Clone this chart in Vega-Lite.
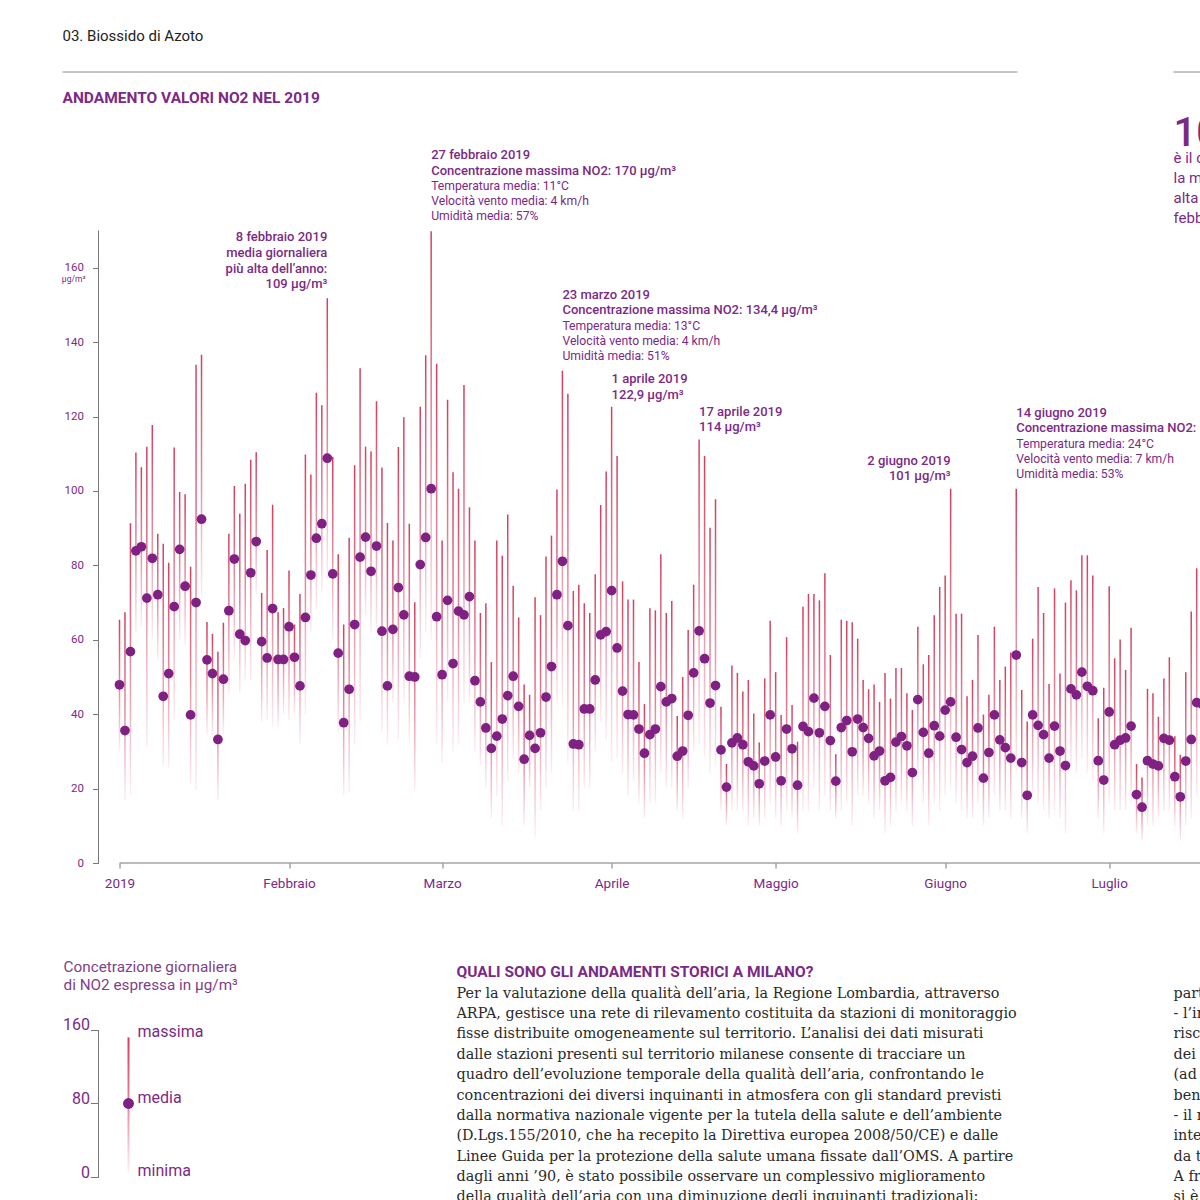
{
"$schema": "https://vega.github.io/schema/vega-lite/v6.json",
"background": "white",
"padding": {"left": 61.5, "top": 29, "right": 0, "bottom": 0},
"autosize": {"type": "pad"},
"config": {"view": {"stroke": null}, "font": "Roboto", "axis": {"labelFont": "Roboto"}, "title": {"font": "Roboto"}},
"datasets": {
"daily": [
{"date":"2019-01-01","mean":47.9,"max":65.4,"min":30},
{"date":"2019-01-02","mean":35.6,"max":67.4,"min":16.7},
{"date":"2019-01-03","mean":56.8,"max":91.3,"min":18.4},
{"date":"2019-01-04","mean":83.9,"max":110.3,"min":61.8},
{"date":"2019-01-05","mean":85.0,"max":106.4,"min":63.5},
{"date":"2019-01-06","mean":71.2,"max":111.9,"min":31.2},
{"date":"2019-01-07","mean":81.9,"max":117.7,"min":60.1},
{"date":"2019-01-08","mean":72.1,"max":88.5,"min":54.6},
{"date":"2019-01-09","mean":44.8,"max":85.8,"min":26.2},
{"date":"2019-01-10","mean":50.9,"max":80.7,"min":25.7},
{"date":"2019-01-11","mean":68.9,"max":111.7,"min":38.4},
{"date":"2019-01-12","mean":84.3,"max":99.7,"min":60.1},
{"date":"2019-01-13","mean":74.4,"max":99.1,"min":58.5},
{"date":"2019-01-14","mean":39.8,"max":79.6,"min":21.2},
{"date":"2019-01-15","mean":70.0,"max":133.9,"min":19.5},
{"date":"2019-01-16","mean":92.4,"max":136.6,"min":71.3},
{"date":"2019-01-17","mean":54.6,"max":64.8,"min":34.5},
{"date":"2019-01-18","mean":50.9,"max":61.6,"min":34.5},
{"date":"2019-01-19","mean":33.2,"max":56.8,"min":16.7},
{"date":"2019-01-20","mean":49.4,"max":64.6,"min":34.5},
{"date":"2019-01-21","mean":67.8,"max":88.5,"min":45.1},
{"date":"2019-01-22","mean":81.7,"max":101.3,"min":54.6},
{"date":"2019-01-23","mean":61.5,"max":93.9,"min":45.7},
{"date":"2019-01-24","mean":59.8,"max":101.9,"min":49.0},
{"date":"2019-01-25","mean":78.0,"max":108.4,"min":49.0},
{"date":"2019-01-26","mean":86.4,"max":110.4,"min":72.4},
{"date":"2019-01-27","mean":59.5,"max":72.6,"min":37.9},
{"date":"2019-01-28","mean":55.1,"max":84.1,"min":38.4},
{"date":"2019-01-29","mean":68.4,"max":96.3,"min":36.7},
{"date":"2019-01-30","mean":54.7,"max":67.4,"min":36.7},
{"date":"2019-01-31","mean":54.7,"max":68.5,"min":40},
{"date":"2019-02-01","mean":63.5,"max":78.6,"min":38.3},
{"date":"2019-02-02","mean":55.3,"max":64.1,"min":40},
{"date":"2019-02-03","mean":47.6,"max":72.3,"min":32},
{"date":"2019-02-04","mean":66.0,"max":109.8,"min":40},
{"date":"2019-02-05","mean":77.4,"max":104.4,"min":62},
{"date":"2019-02-06","mean":87.3,"max":126.4,"min":68},
{"date":"2019-02-07","mean":91.2,"max":123.0,"min":73},
{"date":"2019-02-08","mean":108.8,"max":151.8,"min":76},
{"date":"2019-02-09","mean":77.7,"max":109.2,"min":60},
{"date":"2019-02-10","mean":56.4,"max":83.0,"min":35},
{"date":"2019-02-11","mean":37.7,"max":64.1,"min":18.2},
{"date":"2019-02-12","mean":46.7,"max":87.4,"min":19},
{"date":"2019-02-13","mean":64.1,"max":106.9,"min":32},
{"date":"2019-02-14","mean":82.2,"max":133.0,"min":38},
{"date":"2019-02-15","mean":87.6,"max":111.9,"min":66},
{"date":"2019-02-16","mean":78.4,"max":110.6,"min":62},
{"date":"2019-02-17","mean":85.2,"max":124.1,"min":62},
{"date":"2019-02-18","mean":62.3,"max":106.3,"min":35},
{"date":"2019-02-19","mean":47.6,"max":91.4,"min":32},
{"date":"2019-02-20","mean":62.8,"max":86.7,"min":43},
{"date":"2019-02-21","mean":74.0,"max":111.8,"min":33},
{"date":"2019-02-22","mean":66.7,"max":119.8,"min":43},
{"date":"2019-02-23","mean":50.2,"max":91.2,"min":33},
{"date":"2019-02-24","mean":50.0,"max":70.1,"min":19.4},
{"date":"2019-02-25","mean":80.2,"max":122.6,"min":55},
{"date":"2019-02-26","mean":87.5,"max":136.5,"min":62},
{"date":"2019-02-27","mean":100.6,"max":169.8,"min":60},
{"date":"2019-02-28","mean":66.2,"max":134.2,"min":32},
{"date":"2019-03-01","mean":50.6,"max":86.7,"min":27},
{"date":"2019-03-02","mean":70.6,"max":124.5,"min":43},
{"date":"2019-03-03","mean":53.6,"max":105.0,"min":30},
{"date":"2019-03-04","mean":67.7,"max":100.6,"min":32},
{"date":"2019-03-05","mean":66.7,"max":128.5,"min":43},
{"date":"2019-03-06","mean":71.6,"max":95.6,"min":43},
{"date":"2019-03-07","mean":49.0,"max":86.7,"min":30},
{"date":"2019-03-08","mean":43.3,"max":67.2,"min":26},
{"date":"2019-03-09","mean":36.3,"max":69.8,"min":20},
{"date":"2019-03-10","mean":30.8,"max":54.0,"min":12},
{"date":"2019-03-11","mean":34.1,"max":86.7,"min":18},
{"date":"2019-03-12","mean":38.7,"max":82.6,"min":10},
{"date":"2019-03-13","mean":45.0,"max":93.7,"min":22},
{"date":"2019-03-14","mean":50.2,"max":74.5,"min":28},
{"date":"2019-03-15","mean":42.1,"max":66.0,"min":24},
{"date":"2019-03-16","mean":27.9,"max":48.0,"min":10},
{"date":"2019-03-17","mean":34.3,"max":45.2,"min":20},
{"date":"2019-03-18","mean":30.8,"max":71.4,"min":7},
{"date":"2019-03-19","mean":35.0,"max":66.6,"min":14},
{"date":"2019-03-20","mean":44.6,"max":82.4,"min":20},
{"date":"2019-03-21","mean":52.8,"max":88.0,"min":24},
{"date":"2019-03-22","mean":72.1,"max":100.4,"min":43},
{"date":"2019-03-23","mean":81.1,"max":132.3,"min":42},
{"date":"2019-03-24","mean":63.8,"max":126.1,"min":27},
{"date":"2019-03-25","mean":32.0,"max":73.1,"min":14},
{"date":"2019-03-26","mean":31.8,"max":74.8,"min":14},
{"date":"2019-03-27","mean":41.4,"max":69.8,"min":20},
{"date":"2019-03-28","mean":41.4,"max":67.2,"min":20},
{"date":"2019-03-29","mean":49.2,"max":77.6,"min":30},
{"date":"2019-03-30","mean":61.3,"max":96.2,"min":38},
{"date":"2019-03-31","mean":62.2,"max":105.2,"min":33},
{"date":"2019-04-01","mean":73.2,"max":122.6,"min":27},
{"date":"2019-04-02","mean":57.8,"max":109.4,"min":28},
{"date":"2019-04-03","mean":46.2,"max":75.7,"min":24},
{"date":"2019-04-04","mean":39.9,"max":70.8,"min":18},
{"date":"2019-04-05","mean":39.8,"max":70.8,"min":22},
{"date":"2019-04-06","mean":36.0,"max":54.0,"min":16},
{"date":"2019-04-07","mean":29.5,"max":42.7,"min":12},
{"date":"2019-04-08","mean":34.5,"max":68.5,"min":16},
{"date":"2019-04-09","mean":36.0,"max":67.9,"min":16},
{"date":"2019-04-10","mean":47.4,"max":83.0,"min":24},
{"date":"2019-04-11","mean":43.3,"max":67.2,"min":20},
{"date":"2019-04-12","mean":44.2,"max":70.4,"min":20},
{"date":"2019-04-13","mean":28.7,"max":39.5,"min":14},
{"date":"2019-04-14","mean":30.1,"max":50.0,"min":12},
{"date":"2019-04-15","mean":39.7,"max":62.6,"min":20},
{"date":"2019-04-16","mean":51.1,"max":74.8,"min":30},
{"date":"2019-04-17","mean":62.4,"max":113.8,"min":32},
{"date":"2019-04-18","mean":54.9,"max":109.4,"min":28},
{"date":"2019-04-19","mean":43.0,"max":90.1,"min":24},
{"date":"2019-04-20","mean":47.7,"max":97.8,"min":26},
{"date":"2019-04-21","mean":30.4,"max":42,"min":14},
{"date":"2019-04-22","mean":20.4,"max":26.6,"min":10},
{"date":"2019-04-23","mean":32.3,"max":53.1,"min":14},
{"date":"2019-04-24","mean":33.6,"max":51.1,"min":14},
{"date":"2019-04-25","mean":31.8,"max":46.1,"min":14},
{"date":"2019-04-26","mean":27.2,"max":49.2,"min":10},
{"date":"2019-04-27","mean":26.1,"max":40.2,"min":12},
{"date":"2019-04-28","mean":21.3,"max":32.4,"min":10},
{"date":"2019-04-29","mean":27.4,"max":49.6,"min":12},
{"date":"2019-04-30","mean":39.8,"max":65.1,"min":16},
{"date":"2019-05-01","mean":28.5,"max":51.3,"min":12},
{"date":"2019-05-02","mean":22.1,"max":39.8,"min":10},
{"date":"2019-05-03","mean":36.0,"max":60.7,"min":14},
{"date":"2019-05-04","mean":30.7,"max":42.5,"min":12},
{"date":"2019-05-05","mean":20.9,"max":32.6,"min":8},
{"date":"2019-05-06","mean":36.7,"max":68.9,"min":14},
{"date":"2019-05-07","mean":35.3,"max":72.3,"min":14},
{"date":"2019-05-08","mean":44.3,"max":72.3,"min":20},
{"date":"2019-05-09","mean":35.0,"max":70.6,"min":14},
{"date":"2019-05-10","mean":42.1,"max":77.9,"min":18},
{"date":"2019-05-11","mean":32.9,"max":55.9,"min":14},
{"date":"2019-05-12","mean":22.0,"max":29.2,"min":12},
{"date":"2019-05-13","mean":36.4,"max":65.4,"min":14},
{"date":"2019-05-14","mean":38.3,"max":65.1,"min":16},
{"date":"2019-05-15","mean":29.9,"max":64.7,"min":10},
{"date":"2019-05-16","mean":38.7,"max":60.3,"min":18},
{"date":"2019-05-17","mean":36.4,"max":49.2,"min":18},
{"date":"2019-05-18","mean":33.5,"max":46.7,"min":16},
{"date":"2019-05-19","mean":28.8,"max":48.0,"min":12},
{"date":"2019-05-20","mean":30.1,"max":43.3,"min":14},
{"date":"2019-05-21","mean":22.1,"max":51.1,"min":8},
{"date":"2019-05-22","mean":23.0,"max":44.2,"min":10},
{"date":"2019-05-23","mean":32.5,"max":52.4,"min":14},
{"date":"2019-05-24","mean":34.0,"max":52.4,"min":16},
{"date":"2019-05-25","mean":31.5,"max":45.6,"min":14},
{"date":"2019-05-26","mean":24.3,"max":41.1,"min":10},
{"date":"2019-05-27","mean":43.9,"max":63.5,"min":22},
{"date":"2019-05-28","mean":35.1,"max":53.4,"min":16},
{"date":"2019-05-29","mean":29.5,"max":55.9,"min":10},
{"date":"2019-05-30","mean":36.9,"max":66.6,"min":16},
{"date":"2019-05-31","mean":34.1,"max":74.2,"min":14},
{"date":"2019-06-01","mean":41.1,"max":77.3,"min":18},
{"date":"2019-06-02","mean":43.3,"max":100.6,"min":20},
{"date":"2019-06-03","mean":33.8,"max":67.0,"min":16},
{"date":"2019-06-04","mean":30.5,"max":67.0,"min":14},
{"date":"2019-06-05","mean":27.0,"max":44.8,"min":12},
{"date":"2019-06-06","mean":28.7,"max":49.2,"min":12},
{"date":"2019-06-07","mean":36.3,"max":61.3,"min":16},
{"date":"2019-06-08","mean":22.8,"max":39.9,"min":10},
{"date":"2019-06-09","mean":29.7,"max":45.2,"min":12},
{"date":"2019-06-10","mean":39.8,"max":63.5,"min":18},
{"date":"2019-06-11","mean":33.1,"max":49.2,"min":14},
{"date":"2019-06-12","mean":31.0,"max":52.8,"min":14},
{"date":"2019-06-13","mean":28.2,"max":56.6,"min":12},
{"date":"2019-06-14","mean":55.9,"max":100.6,"min":24},
{"date":"2019-06-15","mean":27.0,"max":46.5,"min":12},
{"date":"2019-06-16","mean":18.2,"max":38,"min":8},
{"date":"2019-06-17","mean":39.8,"max":60.3,"min":18},
{"date":"2019-06-18","mean":37.0,"max":74.2,"min":16},
{"date":"2019-06-19","mean":34.5,"max":67.2,"min":14},
{"date":"2019-06-20","mean":28.2,"max":48.1,"min":12},
{"date":"2019-06-21","mean":36.8,"max":73.8,"min":14},
{"date":"2019-06-22","mean":30.1,"max":50.9,"min":12},
{"date":"2019-06-23","mean":26.2,"max":70.0,"min":8},
{"date":"2019-06-24","mean":46.8,"max":76.0,"min":26},
{"date":"2019-06-25","mean":45.2,"max":73.3,"min":24},
{"date":"2019-06-26","mean":51.3,"max":82.7,"min":28},
{"date":"2019-06-27","mean":47.5,"max":82.7,"min":24},
{"date":"2019-06-28","mean":46.3,"max":77.3,"min":22},
{"date":"2019-06-29","mean":27.5,"max":38.9,"min":12},
{"date":"2019-06-30","mean":22.3,"max":47.1,"min":8},
{"date":"2019-07-01","mean":40.6,"max":74.4,"min":16},
{"date":"2019-07-02","mean":31.8,"max":55.0,"min":14},
{"date":"2019-07-03","mean":33.0,"max":60.1,"min":14},
{"date":"2019-07-04","mean":33.6,"max":51.9,"min":14},
{"date":"2019-07-05","mean":36.8,"max":63.2,"min":16},
{"date":"2019-07-06","mean":18.4,"max":26.6,"min":8},
{"date":"2019-07-07","mean":15.0,"max":23.0,"min":6},
{"date":"2019-07-08","mean":27.5,"max":46.8,"min":10},
{"date":"2019-07-09","mean":26.6,"max":45.6,"min":10},
{"date":"2019-07-10","mean":26.1,"max":39.3,"min":12},
{"date":"2019-07-11","mean":33.5,"max":49.6,"min":14},
{"date":"2019-07-12","mean":33.0,"max":55.3,"min":14},
{"date":"2019-07-13","mean":23.2,"max":34.1,"min":10},
{"date":"2019-07-14","mean":17.8,"max":29.1,"min":6},
{"date":"2019-07-15","mean":27.4,"max":51.3,"min":10},
{"date":"2019-07-16","mean":33.2,"max":67.6,"min":12},
{"date":"2019-07-17","mean":43.1,"max":79.2,"min":18},
{"date":"2019-07-18","mean":42.7,"max":80,"min":18}
],
"notes": [
{"date":"2019-02-08","value":151.8,"head":["8 febbraio 2019","media giornaliera","più alta dell’anno:","109 µg/m³"]},
{"date":"2019-02-27","value":169.8,"head":["27 febbraio 2019","Concentrazione massima NO2: 170 µg/m³"],"detail":["Temperatura media: 11°C","Velocità vento media: 4 km/h","Umidità media: 57%"]},
{"date":"2019-03-23","value":132.3,"head":["23 marzo 2019","Concentrazione massima NO2: 134,4 µg/m³"],"detail":["Temperatura media: 13°C","Velocità vento media: 4 km/h","Umidità media: 51%"]},
{"date":"2019-04-01","value":122.6,"head":["1 aprile 2019","122,9 µg/m³"]},
{"date":"2019-04-17","value":113.8,"head":["17 aprile 2019","114 µg/m³"]},
{"date":"2019-06-02","value":100.6,"head":["2 giugno 2019","101 µg/m³"]},
{"date":"2019-06-14","value":100.6,"head":["14 giugno 2019","Concentrazione massima NO2: 100,6 µg/m³"],"detail":["Temperatura media: 24°C","Velocità vento media: 7 km/h","Umidità media: 53%"]}
],
"legendBar": [{"min": 6, "mean": 80, "max": 152}],
"legendLabels": [{"label": "massima", "value": 152}, {"label": "media", "value": 80}, {"label": "minima", "value": 1}]
},
"concat": [
{
"width": 1102,
"height": 759,
"layer": [
{
"data": {"name": "daily"},
"mark": {"type": "bar", "clip": true, "size": 1.5, "color": {"gradient": "linear", "x1": 0, "y1": 0, "x2": 0, "y2": 1, "stops": [{"offset": 0, "color": "#d2405e"}, {"offset": 0.5, "color": "#e3889c"}, {"offset": 1, "color": "#fdf0f3"}]}},
"encoding": {
"x": {"field": "date", "type": "temporal", "scale": {"type": "utc", "padding": 0, "domain": [{"year": 2018, "month": 12, "date": 28, "hours": 3, "minutes": 50, "utc": true}, {"year": 2019, "month": 7, "date": 17, "hours": 16, "minutes": 42, "utc": true}]},
"axis": {"title": null, "grid": false, "domain": false, "values": [{"year": 2019, "month": 1, "date": 1, "utc": true}, {"year": 2019, "month": 2, "date": 1, "utc": true}, {"year": 2019, "month": 3, "date": 1, "utc": true}, {"year": 2019, "month": 4, "date": 1, "utc": true}, {"year": 2019, "month": 5, "date": 1, "utc": true}, {"year": 2019, "month": 6, "date": 1, "utc": true}, {"year": 2019, "month": 7, "date": 1, "utc": true}],
"labelExpr": "['2019','Febbraio','Marzo','Aprile','Maggio','Giugno','Luglio'][utcmonth(datum.value)]", "tickColor": "#777777", "tickSize": 5, "labelPadding": 8, "labelFontSize": 13.5, "labelColor": "#7b2a86", "labelFlush": false, "labelOverlap": false}},
"y": {"field": "min", "type": "quantitative", "scale": {"domain": [0, 204], "nice": false, "zero": true},
"axis": {"title": null, "grid": false, "domain": false, "values": [0, 20, 40, 60, 80, 100, 120, 140, 160], "tickSize": 6, "tickColor": "#777777", "labelPadding": 9, "labelFontSize": 11.5, "labelColor": "#7b2a86"}},
"y2": {"field": "max"}
}
},
{
"data": {"name": "daily"},
"mark": {"type": "circle", "clip": true, "size": 95, "color": "#7e2182", "opacity": 1},
"encoding": {
"x": {"field": "date", "type": "temporal"},
"y": {"field": "mean", "type": "quantitative"}
}
},
{
"data": {"values": [{}]},
"mark": {"type": "rule", "color": "#777777", "strokeWidth": 1},
"encoding": {
"x": {"datum": {"year": 2018, "month": 12, "date": 28, "hours": 3, "minutes": 50, "utc": true}, "type": "temporal"},
"y": {"datum": 0, "type": "quantitative"},
"y2": {"datum": 170}
}
},
{
"data": {"values": [{}]},
"mark": {"type": "rule", "color": "#777777", "strokeWidth": 1},
"encoding": {
"x": {"datum": {"year": 2019, "month": 1, "date": 1, "utc": true}, "type": "temporal"},
"x2": {"datum": {"year": 2019, "month": 7, "date": 17, "hours": 16, "minutes": 42, "utc": true}},
"y": {"datum": 0, "type": "quantitative"}
}
},
{
"data": {"values": [{}]},
"mark": {"type": "text", "align": "right", "baseline": "alphabetic", "dx": -13, "dy": 14, "fontSize": 8.5, "color": "#7b2a86"},
"encoding": {
"x": {"datum": {"year": 2018, "month": 12, "date": 28, "hours": 3, "minutes": 50, "utc": true}, "type": "temporal"},
"y": {"datum": 160, "type": "quantitative"},
"text": {"value": "µg/m³"}
}
},
{
"data": {"values": [{}]},
"mark": {"type": "rule", "color": "#888888", "strokeWidth": 1},
"encoding": {
"x": {"datum": {"year": 2018, "month": 12, "date": 21, "hours": 13, "minutes": 49, "utc": true}, "type": "temporal"},
"x2": {"datum": {"year": 2019, "month": 6, "date": 14, "hours": 5, "minutes": 31, "utc": true}},
"y": {"datum": 212.6, "type": "quantitative"}
}
},
{
"data": {"values": [{}]},
"mark": {"type": "rule", "color": "#888888", "strokeWidth": 1},
"encoding": {
"x": {"datum": {"year": 2019, "month": 7, "date": 12, "hours": 18, "minutes": 14, "utc": true}, "type": "temporal"},
"x2": {"datum": {"year": 2019, "month": 7, "date": 17, "hours": 16, "minutes": 42, "utc": true}},
"y": {"datum": 212.6, "type": "quantitative"}
}
},
{
"data": {"values": [{}]},
"mark": {"type": "text", "align": "left", "baseline": "alphabetic", "fontSize": 15, "color": "#222222"},
"encoding": {
"x": {"datum": {"year": 2018, "month": 12, "date": 21, "hours": 13, "minutes": 49, "utc": true}, "type": "temporal"},
"y": {"datum": 220.9, "type": "quantitative"},
"text": {"value": "03. Biossido di Azoto"}
}
},
{
"data": {"values": [{}]},
"mark": {"type": "text", "align": "left", "baseline": "alphabetic", "fontSize": 15.5, "fontWeight": "bold", "color": "#7b2a86"},
"encoding": {
"x": {"datum": {"year": 2018, "month": 12, "date": 21, "hours": 13, "minutes": 49, "utc": true}, "type": "temporal"},
"y": {"datum": 204.3, "type": "quantitative"},
"text": {"value": "ANDAMENTO VALORI NO2 NEL 2019"}
}
},
{
"data": {"values": [{}]},
"mark": {"type": "text", "align": "left", "baseline": "alphabetic", "fontSize": 40, "fontWeight": 500, "color": "#7b2a86", "clip": true},
"encoding": {
"x": {"datum": {"year": 2019, "month": 7, "date": 12, "hours": 18, "minutes": 14, "utc": true}, "type": "temporal"},
"y": {"datum": 192.7, "type": "quantitative"},
"text": {"value": "109 µg/m³"}
}
},
{
"data": {"values": [{}]},
"mark": {"type": "text", "align": "left", "baseline": "alphabetic", "fontSize": 15, "lineHeight": 20, "color": "#7b2a86", "clip": true},
"encoding": {
"x": {"datum": {"year": 2019, "month": 7, "date": 12, "hours": 18, "minutes": 14, "utc": true}, "type": "temporal"},
"y": {"datum": 188.1, "type": "quantitative"},
"text": {"value": ["è il culmine registrato per", "la media giornaliera più", "alta dell’anno, l’8", "febbraio 2019"]}
}
},
{
"data": {"name": "notes"},
"transform": [{"filter": "!isValid(datum.detail) && length(datum.head) == 2 && datum.head[0] != '2 giugno 2019'"}],
"mark": {"type": "text", "align": "left", "baseline": "alphabetic", "dy": -24, "fontSize": 13, "fontWeight": 500, "lineHeight": 15.7, "color": "#7b2a86", "clip": true},
"encoding": {
"x": {"field": "date", "type": "temporal"},
"y": {"field": "value", "type": "quantitative"},
"text": {"field": "head"}
}
},
{
"data": {"name": "notes"},
"transform": [{"filter": "datum.head[0] == '2 giugno 2019'"}],
"mark": {"type": "text", "align": "right", "baseline": "alphabetic", "dy": -24, "fontSize": 13, "fontWeight": 500, "lineHeight": 15.7, "color": "#7b2a86", "clip": true},
"encoding": {
"x": {"field": "date", "type": "temporal"},
"y": {"field": "value", "type": "quantitative"},
"text": {"field": "head"}
}
},
{
"data": {"name": "notes"},
"transform": [{"filter": "length(datum.head) == 4"}],
"mark": {"type": "text", "align": "right", "baseline": "alphabetic", "dy": -57, "fontSize": 13, "fontWeight": 500, "lineHeight": 15.7, "color": "#7b2a86", "clip": true},
"encoding": {
"x": {"field": "date", "type": "temporal"},
"y": {"field": "value", "type": "quantitative"},
"text": {"field": "head"}
}
},
{
"data": {"name": "notes"},
"transform": [{"filter": "isValid(datum.detail)"}],
"mark": {"type": "text", "align": "left", "baseline": "alphabetic", "dy": -72, "fontSize": 13, "fontWeight": 500, "lineHeight": 15.7, "color": "#7b2a86", "clip": true},
"encoding": {
"x": {"field": "date", "type": "temporal"},
"y": {"field": "value", "type": "quantitative"},
"text": {"field": "head"}
}
},
{
"data": {"name": "notes"},
"transform": [{"filter": "isValid(datum.detail)"}],
"mark": {"type": "text", "align": "left", "baseline": "alphabetic", "dy": -41, "fontSize": 12.2, "lineHeight": 15, "color": "#7b2a86", "clip": true},
"encoding": {
"x": {"field": "date", "type": "temporal"},
"y": {"field": "value", "type": "quantitative"},
"text": {"field": "detail"}
}
}
]
},
{
"concat": [
{
"width": 241,
"height": 221,
"layer": [
{
"data": {"values": [{}]},
"mark": {"type": "rule", "color": "#777777", "strokeWidth": 1},
"encoding": {
"x": {"datum": 0, "type": "quantitative", "scale": {"domain": [0, 24.1], "nice": false, "zero": false, "padding": 0}, "axis": null},
"y": {"datum": 0, "type": "quantitative", "scale": {"domain": [0, 240.54], "nice": false},
"axis": {"title": null, "grid": false, "domain": false, "values": [0, 80, 160], "tickSize": 8, "tickColor": "#777777", "labelBaseline": "alphabetic", "labelPadding": 1, "labelFontSize": 16, "labelColor": "#7b2a86"}},
"y2": {"datum": 160}
}
},
{
"data": {"name": "legendBar"},
"mark": {"type": "bar", "size": 2, "color": {"gradient": "linear", "x1": 0, "y1": 0, "x2": 0, "y2": 1, "stops": [{"offset": 0, "color": "#d2405e"}, {"offset": 0.5, "color": "#e3889c"}, {"offset": 1, "color": "#fdf0f3"}]}},
"encoding": {
"x": {"datum": 3, "type": "quantitative"},
"y": {"field": "min", "type": "quantitative"},
"y2": {"field": "max"}
}
},
{
"data": {"name": "legendBar"},
"mark": {"type": "circle", "size": 120, "color": "#7e2182", "opacity": 1},
"encoding": {
"x": {"datum": 3, "type": "quantitative"},
"y": {"field": "mean", "type": "quantitative"}
}
},
{
"data": {"name": "legendLabels"},
"mark": {"type": "text", "align": "left", "baseline": "alphabetic", "dx": 9, "fontSize": 16, "color": "#7b2a86"},
"encoding": {
"x": {"datum": 3, "type": "quantitative"},
"y": {"field": "value", "type": "quantitative"},
"text": {"field": "label"}
}
},
{
"data": {"values": [{}]},
"mark": {"type": "text", "align": "left", "baseline": "top", "dx": -35, "dy": 3.5, "fontSize": 15.3, "lineHeight": 18, "color": "#7e3f8c"},
"encoding": {
"x": {"datum": 0, "type": "quantitative"},
"y": {"datum": 240.54, "type": "quantitative"},
"text": {"value": ["Concetrazione giornaliera", "di NO2 espressa in µg/m³"]}
}
}
]
},
{
"width": 600,
"height": 245,
"layer": [
{
"data": {"values": [{}]},
"mark": {"type": "text", "align": "left", "baseline": "top", "dy": 9, "fontSize": 15.5, "fontWeight": "bold", "color": "#7b2a86", "clip": true},
"encoding": {
"x": {"datum": 0, "type": "quantitative", "scale": {"domain": [0, 1], "nice": false, "zero": false}, "axis": null},
"y": {"datum": 1, "type": "quantitative", "scale": {"domain": [0, 1], "nice": false}, "axis": null},
"text": {"value": "QUALI SONO GLI ANDAMENTI STORICI A MILANO?"}
}
},
{
"data": {"values": [{}]},
"mark": {"type": "text", "align": "left", "baseline": "top", "dy": 30.5, "font": "DejaVu Serif", "fontSize": 14.35, "lineHeight": 20.4, "color": "#2a2a2a", "clip": true},
"encoding": {
"x": {"datum": 0, "type": "quantitative"},
"y": {"datum": 1, "type": "quantitative"},
"text": {"value": ["Per la valutazione della qualità dell’aria, la Regione Lombardia, attraverso", "ARPA, gestisce una rete di rilevamento costituita da stazioni di monitoraggio", "fisse distribuite omogeneamente sul territorio. L’analisi dei dati misurati", "dalle stazioni presenti sul territorio milanese consente di tracciare un", "quadro dell’evoluzione temporale della qualità dell’aria, confrontando le", "concentrazioni dei diversi inquinanti in atmosfera con gli standard previsti", "dalla normativa nazionale vigente per la tutela della salute e dell’ambiente", "(D.Lgs.155/2010, che ha recepito la Direttiva europea 2008/50/CE) e dalle", "Linee Guida per la protezione della salute umana fissate dall’OMS. A partire", "dagli anni ’90, è stato possibile osservare un complessivo miglioramento", "della qualità dell’aria con una diminuzione degli inquinanti tradizionali:"]}
}
}
]
},
{
"width": 27,
"height": 245,
"layer": [
{
"data": {"values": [{}]},
"mark": {"type": "text", "align": "left", "baseline": "top", "dy": 30.5, "font": "DejaVu Serif", "fontSize": 14.35, "lineHeight": 20.4, "color": "#2a2a2a", "clip": true},
"encoding": {
"x": {"datum": 0, "type": "quantitative", "scale": {"domain": [0, 1], "nice": false, "zero": false}, "axis": null},
"y": {"datum": 1, "type": "quantitative", "scale": {"domain": [0, 1], "nice": false}, "axis": null},
"text": {"value": ["particolare:", "- l’introduzione di nuovi", "riscaldamenti meno inquinanti", "dei veicoli più recenti", "(ad esempio gli Euro 6)", "benzina e gasolio", "- il rinnovo del parco", "interventi di limitazione", "da traffico veicolare", "A fronte di questi risultati", "si è osservato"]}
}
}
]
}
],
"columns": 3,
"align": "none",
"bounds": "full",
"spacing": 117
}
],
"columns": 1,
"align": "none",
"bounds": "full",
"spacing": 66
}
